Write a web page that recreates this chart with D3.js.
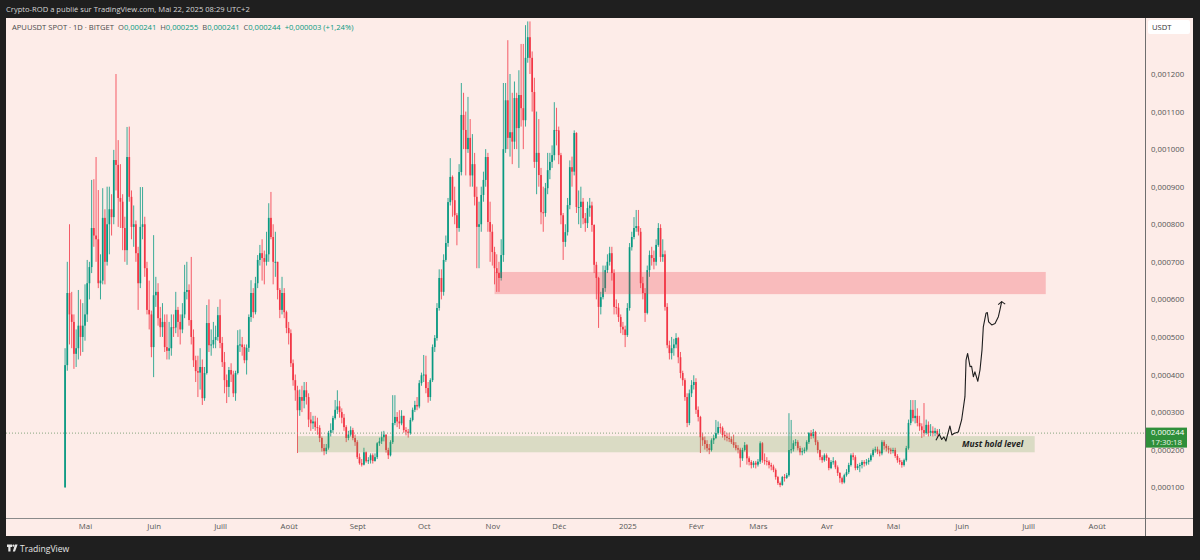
<!DOCTYPE html>
<html>
<head>
<meta charset="utf-8">
<script src="https://cdn.jsdelivr.net/npm/d3@7"></script>
<style>
  body { margin: 0; background: #1f1f1f; }
  svg { display: block; font-family: "Open Sans", "Noto Sans", sans-serif; }
</style>
</head>
<body>
<svg id="chart" width="1200" height="560"></svg>
<script>
// prices are in millionths of USDT (0,000244 -> 244), one candle per day from 2024-04-22
// open of each day = close of the day before (24/7 market)
var firstOpen = 100;
var closes = [
  425,617,560,540,455,470,530,500,530,560,
  643,686,790,770,760,643,650,817,700,800,
  840,819,971,958,870,860,790,731,979,873,
  793,800,723,643,793,800,683,572,560,473,
  611,620,550,526,540,473,463,470,526,525,   // juin
  572,540,520,560,620,625,545,500,438,409,
  405,420,337,404,537,478,480,492,500,558,
  484,433,385,367,412,400,350,404,478,480,   // juillet
  473,438,471,553,617,566,643,705,723,710,
  700,720,817,766,700,700,625,572,617,566,
  524,510,430,385,358,305,340,330,358,340,   // aout
  280,270,275,260,258,231,204,196,205,244,
  252,284,306,315,300,285,260,231,240,252,
  231,220,180,164,160,193,169,172,185,170,   // septembre
  180,217,222,233,240,199,185,220,271,287,
  275,270,290,252,248,244,279,306,319,315,
  377,398,400,364,340,385,473,497,577,657,   // octobre
  620,705,750,859,926,864,824,790,939,1091,
  1051,1000,1030,930,960,873,793,800,878,918,
  979,806,780,726,683,670,657,718,1000,1130, // novembre
  1030,1045,1020,1136,1056,1144,1109,1077,1243,1298,
  1243,1152,966,990,931,832,830,896,944,966,
  984,1051,1050,984,824,753,779,851,952,940, // decembre
  1043,846,846,860,816,803,843,850,798,692,
  657,580,606,630,678,700,723,670,580,578,
  553,527,520,505,577,739,766,790,795,780,   // janvier
  643,617,564,678,718,710,700,745,790,713,
  720,580,478,457,470,480,497,446,404,385,
  340,271,350,372,380,306,287,233,225,215,   // fevrier
  204,199,225,231,244,260,258,239,235,231,
  228,220,212,204,200,177,199,212,177,167,
  159,165,160,168,217,172,170,168,159,155,   // mars
  146,127,111,106,127,125,132,199,201,217,
  220,204,193,196,200,220,244,236,247,220,
  199,180,172,185,178,151,167,169,153,138,   // avril
  124,113,132,140,159,185,180,151,156,159,
  167,163,167,172,185,199,201,195,190,220,
  210,204,200,196,199,183,172,167,159,172,   // mai
  204,271,306,284,290,271,262,252,244,266,
  244,250,244,250,241,244
];
var highs = [
  470,700,800,620,560,520,625,600,590,640,
  705,700,918,920,979,891,720,896,840,900,
  900,880,998,1200,1024,960,880,820,1059,1060,
  890,850,810,740,899,899,820,700,650,570,
  771,660,643,580,590,560,560,540,560,560,
  620,580,560,590,692,700,640,713,520,450,
  450,470,440,420,585,600,520,540,530,580,
  600,500,460,400,420,430,410,410,518,520,
  500,480,480,560,651,630,660,718,745,760,
  730,780,856,886,800,780,700,630,660,630,
  570,540,520,440,400,370,360,370,380,380,
  350,300,290,290,285,265,235,215,215,250,
  270,290,332,358,330,310,295,265,250,262,
  258,240,225,190,175,205,195,180,190,190,
  190,220,232,248,250,240,205,225,345,345,
  300,305,305,290,260,255,285,312,330,340,
  385,405,452,450,380,390,480,505,590,680,
  680,720,770,870,976,930,900,830,960,1176,
  1150,1100,1139,1080,1040,990,900,860,900,940,
  1000,990,860,800,740,720,700,760,1176,1176,
  1290,1200,1150,1180,1150,1210,1280,1280,1330,1340,
  1340,1260,1190,1100,1080,950,900,910,990,990,
  1010,1125,1110,1060,990,830,800,870,970,980,
  1050,1045,890,900,870,830,860,870,860,800,
  700,660,620,690,690,720,740,740,680,600,
  590,560,540,530,590,750,780,819,838,838,
  790,660,630,690,730,740,730,760,803,800,
  760,730,590,490,500,495,510,500,460,410,
  390,350,360,385,398,390,315,290,245,235,
  225,215,230,240,279,275,270,262,250,245,
  245,235,240,220,212,205,205,220,215,182,
  172,170,170,175,222,220,190,180,172,165,
  160,150,130,115,130,135,138,297,279,225,
  228,225,210,205,206,225,247,252,255,250,
  225,200,185,190,190,180,172,180,172,158,
  140,128,136,148,165,190,192,185,162,165,
  172,172,175,178,190,203,208,208,200,225,
  225,215,210,205,205,205,188,178,172,176,
  210,280,332,332,332,310,290,270,324,280,
  275,268,262,258,255,255
];
var lows = [
  98,410,480,470,415,420,440,450,460,490,
  540,600,670,740,700,630,600,640,640,690,
  720,770,800,890,793,790,731,700,692,860,
  760,740,700,572,630,760,660,560,520,446,
  393,580,530,500,500,460,440,440,450,500,
  510,500,480,510,550,600,530,480,420,380,
  340,360,319,330,400,460,450,470,470,490,
  470,420,350,324,340,380,340,330,400,460,
  450,430,400,460,540,550,560,630,690,650,
  640,690,700,760,640,660,600,550,560,550,
  510,480,420,370,330,191,290,300,310,320,
  260,250,255,250,240,220,195,185,188,200,
  235,245,280,295,285,270,250,220,225,235,
  225,210,175,160,155,158,165,162,163,163,
  168,175,210,215,222,192,175,182,215,265,
  260,255,265,245,238,232,240,275,300,305,
  310,370,380,350,325,330,380,460,490,570,
  600,610,700,740,850,820,800,744,780,930,
  1000,930,990,900,900,850,683,683,780,860,
  900,780,700,690,640,620,620,650,700,990,
  1000,980,960,1000,1000,950,1060,1000,1060,1230,
  1200,1100,950,880,900,800,780,820,880,920,
  950,970,1010,960,800,705,740,770,840,900,
  930,830,800,790,800,780,790,820,780,670,
  600,524,560,600,620,670,690,650,560,560,
  540,510,505,473,500,570,730,760,780,770,
  630,600,540,560,660,690,680,690,740,700,
  700,570,470,440,440,450,470,430,390,370,
  330,260,265,340,360,295,275,191,210,200,
  195,188,195,215,228,240,245,232,225,222,
  220,215,205,198,190,153,170,195,160,158,
  150,152,150,155,162,165,160,158,150,145,
  140,120,106,100,104,115,122,128,190,195,
  210,198,185,185,190,195,215,228,230,212,
  190,172,165,168,170,145,148,160,148,130,
  112,108,110,128,135,155,172,145,146,140,
  150,155,158,160,168,180,192,188,182,185,
  200,195,190,188,190,178,165,160,152,155,
  168,200,265,275,270,262,250,231,235,240,
  235,236,235,236,232,241
];

var monthLabels = ["Mai", "Juin", "Juill", "Août", "Sept", "Oct", "Nov", "Déc",
                   "2025", "Févr", "Mars", "Avr", "Mai", "Juin", "Juill", "Août"];
var priceTicks = [100, 200, 300, 400, 500, 600, 700, 800, 900, 1000, 1100, 1200];
var lastPrice = 244;
var countdown = "17:30:18";

// drawings: day index (0 = 2024-04-22) and price levels
var redZone = { from: 194, to: 443, low: 614, high: 673 };
var greenZone = { from: 105, to: 438, low: 193, high: 236, label: "Must hold level", labelDay: 419 };
var projection = [
  [393.4,225],[394.9,241],[396.0,227],[397.0,234],[397.9,223],[399.7,263],[400.6,239],
  [401.5,243],[403.5,247],[405.0,279],[406.5,341],[407.0,438],[407.7,456],[408.8,421],
  [409.5,422],[410.3,394],[411.0,407],[412.3,382],[413.3,412],[414.2,465],[414.8,527],
  [416.0,563],[416.6,565],[417.2,540],[418.6,532],[420.1,536],[421.6,554],[422.3,572],
  [423.1,594]
];

var header = "Crypto-ROD a publié sur TradingView.com, Mai 22, 2025 08:29 UTC+2";
var legendTitle = "APUUSDT SPOT · 1D · BITGET";
var legendValues = [["O", "0,000241"], ["H", "0,000255"], ["B", "0,000241"], ["C", "0,000244"]];
var legendChange = "+0,000003 (+1,24%)";

var upColor = "#089981", downColor = "#f23645";
var paneBg = "#fdece8";
var axisFont = 7.8;

var svg = d3.select("#chart");
var pane = { left: 6, top: 18, right: 1145, bottom: 518, outerRight: 1193, outerBottom: 536 };

var dayMs = 864e5;
var start = Date.UTC(2024, 3, 22);
function dayDate(i) { return new Date(start + i * dayMs); }

var x = d3.scaleUtc()
    .domain([new Date(Date.UTC(2024, 4, 1)), new Date(Date.UTC(2025, 4, 1))])
    .range([85, 893]);
var y = d3.scaleLinear().domain([100, 1200]).range([487.2, 74]);
var fmt = function (v) { return (v / 1e6).toFixed(6).replace(".", ","); };

// header
svg.append("text").attr("x", 6).attr("y", 12)
    .attr("font-size", 7.6).attr("fill", "#d6d6d6").text(header);

// pane background
svg.append("rect")
    .attr("x", pane.left).attr("y", pane.top)
    .attr("width", pane.outerRight - pane.left).attr("height", pane.outerBottom - pane.top)
    .attr("fill", paneBg);

svg.append("defs").append("clipPath").attr("id", "plot")
  .append("rect")
    .attr("x", pane.left).attr("y", pane.top)
    .attr("width", pane.right - pane.left).attr("height", pane.bottom - pane.top);

var plot = svg.append("g").attr("clip-path", "url(#plot)");

// candles
var candles = closes.map(function (c, i) {
  var o = i === 0 ? firstOpen : closes[i - 1];
  return {
    date: dayDate(i), o: o, c: c,
    h: Math.max(highs[i], o, c), l: Math.min(lows[i], o, c)
  };
});
var bodyW = 1.7;

var cg = plot.append("g");
cg.selectAll("line.wick").data(candles).enter().append("line")
    .attr("class", "wick")
    .attr("x1", function (d) { return x(d.date); })
    .attr("x2", function (d) { return x(d.date); })
    .attr("y1", function (d) { return y(d.h); })
    .attr("y2", function (d) { return y(d.l); })
    .attr("stroke", function (d) { return d.c >= d.o ? upColor : downColor; })
    .attr("stroke-width", 0.8);

cg.selectAll("rect.body").data(candles).enter().append("rect")
    .attr("class", "body")
    .attr("x", function (d) { return x(d.date) - bodyW / 2; })
    .attr("width", bodyW)
    .attr("y", function (d) { return y(Math.max(d.o, d.c)); })
    .attr("height", function (d) { return Math.max(1, Math.abs(y(d.o) - y(d.c))); })
    .attr("fill", function (d) { return d.c >= d.o ? upColor : downColor; });

// zones
plot.append("rect")
    .attr("x", x(dayDate(redZone.from))).attr("width", x(dayDate(redZone.to)) - x(dayDate(redZone.from)))
    .attr("y", y(redZone.high)).attr("height", y(redZone.low) - y(redZone.high))
    .attr("fill", "rgba(242,54,69,0.27)");

plot.append("rect")
    .attr("x", x(dayDate(greenZone.from))).attr("width", x(dayDate(greenZone.to)) - x(dayDate(greenZone.from)))
    .attr("y", y(greenZone.high)).attr("height", y(greenZone.low) - y(greenZone.high))
    .attr("fill", "rgba(96,160,70,0.22)");

plot.append("text")
    .attr("x", x(dayDate(greenZone.labelDay)))
    .attr("y", (y(greenZone.high) + y(greenZone.low)) / 2 + 3)
    .attr("text-anchor", "middle")
    .attr("font-size", 8.5).attr("font-style", "italic").attr("font-weight", "bold")
    .attr("fill", "#1e1e1e").text(greenZone.label);

// last price line
plot.append("line")
    .attr("x1", pane.left).attr("x2", pane.right)
    .attr("y1", y(lastPrice)).attr("y2", y(lastPrice))
    .attr("stroke", "#86a57f").attr("stroke-width", 1).attr("stroke-dasharray", "1,2");

// hand drawn projection
var line = d3.line()
    .x(function (d) { return x(dayDate(d[0])); })
    .y(function (d) { return y(d[1]); });
plot.append("path").datum(projection)
    .attr("d", line).attr("fill", "none")
    .attr("stroke", "#1e1e1e").attr("stroke-width", 1.1).attr("stroke-linejoin", "round");
var tip = projection[projection.length - 1];
var tx = x(dayDate(tip[0])), ty = y(tip[1]);
plot.append("path")
    .attr("d", "M" + (tx - 3.5) + "," + (ty + 3) + "L" + tx + "," + ty + "L" + (tx + 3.5) + "," + (ty + 2.5))
    .attr("fill", "none").attr("stroke", "#1e1e1e").attr("stroke-width", 1.1);

// legend
var leg = svg.append("text").attr("x", 12).attr("y", 30).attr("font-size", 7.6);
leg.append("tspan").attr("fill", "#4a4a4a").text(legendTitle);
legendValues.forEach(function (p) {
  leg.append("tspan").attr("fill", "#555").attr("dx", 4).text(p[0]);
  leg.append("tspan").attr("fill", upColor).text(p[1]);
});
leg.append("tspan").attr("fill", upColor).attr("dx", 4).text(legendChange);

// price axis
svg.append("g")
    .attr("transform", "translate(" + pane.right + ",0)")
    .call(d3.axisRight(y).tickValues(priceTicks).tickFormat(fmt).tickSize(0).tickPadding(6))
    .call(function (g) { g.select(".domain").remove(); })
    .selectAll("text").attr("fill", "#555").attr("font-size", axisFont)
    .attr("font-family", "\"Open Sans\", \"Noto Sans\", sans-serif");

// time axis
var monthTicks = d3.utcMonth.range(new Date(Date.UTC(2024, 4, 1)), new Date(Date.UTC(2025, 8, 1)));
svg.append("g")
    .attr("transform", "translate(0," + pane.bottom + ")")
    .call(d3.axisBottom(x).tickValues(monthTicks)
      .tickFormat(function (d, i) { return monthLabels[i]; }).tickSize(0).tickPadding(5))
    .call(function (g) { g.select(".domain").remove(); })
    .selectAll("text").attr("fill", "#555").attr("font-size", axisFont)
    .attr("font-family", "\"Open Sans\", \"Noto Sans\", sans-serif");

// separators
svg.append("line").attr("x1", pane.left).attr("x2", pane.outerRight)
    .attr("y1", pane.bottom + 0.5).attr("y2", pane.bottom + 0.5).attr("stroke", "#8a8a8a");
svg.append("line").attr("x1", pane.right + 0.5).attr("x2", pane.right + 0.5)
    .attr("y1", pane.top).attr("y2", pane.outerBottom).attr("stroke", "#6e6e6e");

// USDT tag
svg.append("rect").attr("x", 1148).attr("y", 20).attr("width", 42).attr("height", 14)
    .attr("rx", 2).attr("fill", "#ffffff");
svg.append("text").attr("x", 1152).attr("y", 30).attr("font-size", 7.6)
    .attr("fill", "#333").text("USDT");

// last price tag
var ly = y(lastPrice);
svg.append("rect").attr("x", pane.right + 1).attr("y", ly - 5.5).attr("width", 41).attr("height", 20)
    .attr("fill", "#2f8f3a");
svg.append("text").attr("x", pane.right + 6).attr("y", ly + 2.3).attr("font-size", axisFont)
    .attr("fill", "#fff").text(fmt(lastPrice));
svg.append("text").attr("x", pane.right + 6).attr("y", ly + 11.5).attr("font-size", axisFont)
    .attr("fill", "#e8f5e9").text(countdown);

// TradingView footer
var logo = svg.append("g").attr("fill", "#e6e6e6");
logo.append("path").attr("d", "M7,544.5h5v2.4h-1.5v4.6h-2.2v-4.6h-1.3z");
logo.append("circle").attr("cx", 13.4).attr("cy", 545.7).attr("r", 1.1);
logo.append("path").attr("d", "M15,544.5h2.6l-2.6,7h-2.2z");
svg.append("text").attr("x", 20).attr("y", 551.5).attr("font-size", 8.6)
    .attr("fill", "#e6e6e6").text("TradingView");
</script>
</body>
</html>
